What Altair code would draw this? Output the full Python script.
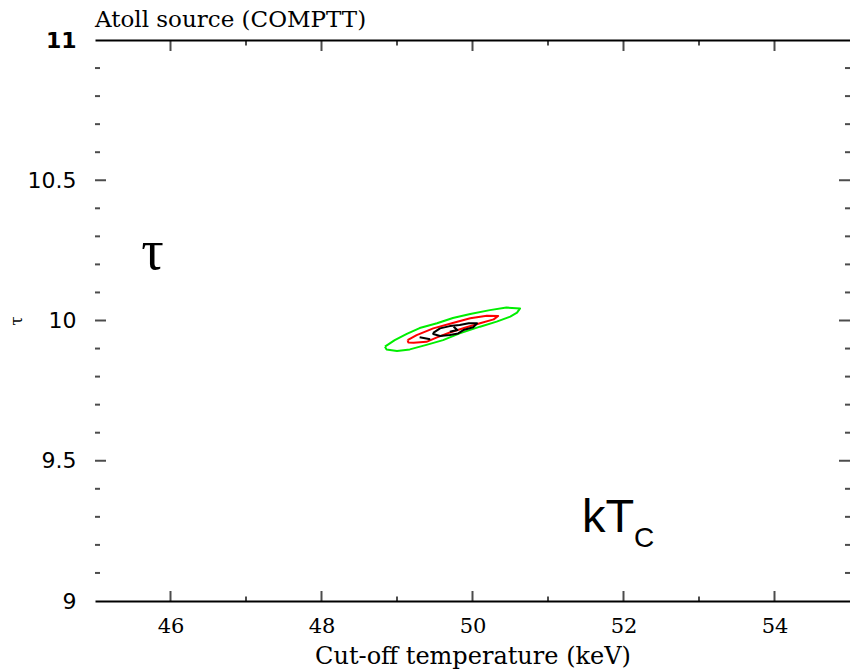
import altair as alt
import pandas as pd

# ---- contour data (Cut-off temperature keV, tau) ----
green_x = [48.84, 48.97, 49.13, 49.30, 49.53, 49.74, 49.97, 50.23, 50.45, 50.63,
           50.59, 50.50, 50.32, 50.10, 49.83, 49.61, 49.39, 49.17, 49.00, 48.86, 48.84]
green_y = [9.907, 9.930, 9.952, 9.973, 9.990, 10.009, 10.023, 10.037, 10.046, 10.043,
           10.028, 10.014, 9.996, 9.978, 9.954, 9.930, 9.913, 9.897, 9.891, 9.897, 9.907]

red_x = [49.14, 49.26, 49.48, 49.75, 49.97, 50.19, 50.34, 50.28, 50.10, 49.92,
         49.70, 49.53, 49.39, 49.22, 49.15, 49.14]
red_y = [9.930, 9.948, 9.972, 9.992, 10.008, 10.017, 10.016, 10.004, 9.990, 9.976,
         9.957, 9.940, 9.924, 9.921, 9.922, 9.930]

black_x = [49.48, 49.57, 49.70, 49.83, 49.95, 50.06, 50.01, 49.88, 49.81, 49.70,
           49.57, 49.48, 49.48]
black_y = [9.956, 9.972, 9.980, 9.984, 9.990, 9.990, 9.976, 9.966, 9.954, 9.948,
           9.945, 9.952, 9.956]
black2_x = [49.30, 49.44]
black2_y = [9.940, 9.933]
black3_x = [49.75, 49.80, 49.70]
black3_y = [9.978, 9.966, 9.960]

# ---- axis ticks ----
x_major = [46, 48, 50, 52, 54]
x_minor = [47, 49, 51, 53]
y_major = [9.5, 10.0, 10.5]
y_minor = [9.1, 9.2, 9.3, 9.4, 9.6, 9.7, 9.8, 9.9,
           10.1, 10.2, 10.3, 10.4, 10.6, 10.7, 10.8, 10.9]
y_labels = [9, 9.5, 10, 10.5, 11]

# ---- texts ----
title_text = ["Atoll source (COMPTT)"]
title_pos = [45.0, 11.0]
tau_text = ["τ"]
tau_pos = [45.76, 10.245]
kt_text = ["kT"]
kt_pos = [51.45, 9.246]
c_text = ["C"]
c_pos = [52.14, 9.193]

rows = []
def add(piece, level, xs, ys):
    for i, (a, b) in enumerate(zip(xs, ys)):
        rows.append(dict(piece=piece, level=level, x=a, y=b, i=i))

add("g", "outer", green_x, green_y)
add("r", "mid", red_x, red_y)
add("b1", "inner", black_x, black_y)
add("b2", "inner", black2_x, black2_y)
add("b3", "inner", black3_x, black3_y)
cont = pd.DataFrame(rows)

xscale = alt.Scale(domain=[45, 55], nice=False, zero=False)
yscale = alt.Scale(domain=[9, 11], nice=False, zero=False)

contours = alt.Chart(cont).mark_line(strokeWidth=2, strokeJoin="round").encode(
    x=alt.X("x:Q", scale=xscale, axis=alt.Axis(
        orient="bottom", values=x_major, format="d", ticks=False, tickSize=0,
        labelPadding=14, labelFont="DejaVu Serif", labelFontSize=21,
        labelColor="black", domain=True, domainColor="black", domainWidth=2,
        grid=False, title="Cut-off temperature (keV)", titleFont="DejaVu Serif",
        titleFontSize=24, titleFontWeight="normal", titleColor="black",
        titlePadding=8)),
    y=alt.Y("y:Q", scale=yscale, axis=alt.Axis(
        orient="left", values=y_labels, format="~g", ticks=False, tickSize=0,
        domain=False, grid=False, labelPadding=19, labelFontSize=22,
        labelColor="black", labelFont="DejaVu Sans",
        labelFontWeight={"condition": {"test": "datum.value == 11", "value": "bold"},
                         "value": "normal"},
        title="τ", titleFont="DejaVu Serif", titleFontSize=17,
        titleFontWeight="normal", titleColor="black", titlePadding=2)),
    color=alt.Color("level:N", scale=alt.Scale(domain=["outer", "mid", "inner"],
                                               range=["#00ee00", "#ff0000", "#000000"]),
                    legend=None),
    detail="piece:N",
    order="i:Q",
)

bx = pd.DataFrame({"x": x_major, "y": [9] * len(x_major)})
bxm = pd.DataFrame({"x": x_minor, "y": [9] * len(x_minor)})
tx = pd.DataFrame({"x": x_major, "y": [11] * len(x_major)})
txm = pd.DataFrame({"x": x_minor, "y": [11] * len(x_minor)})

def vticks(df, size, top=False):
    xax = None
    if top:
        xax = alt.Axis(orient="top", labels=False, ticks=False, domain=True,
                       domainColor="black", domainWidth=2, grid=False, title=None)
    return alt.Chart(df).mark_tick(orient="vertical", size=size, thickness=2,
                                   clip=True, color="black").encode(
        x=alt.X("x:Q", scale=xscale, axis=xax),
        y=alt.Y("y:Q", scale=yscale, axis=None),
    )

yl = pd.DataFrame({"x": [45] * len(y_major) + [55] * len(y_major), "y": y_major * 2})
ylm = pd.DataFrame({"x": [45] * len(y_minor) + [55] * len(y_minor), "y": y_minor * 2})

def hticks(df, size):
    return alt.Chart(df).mark_tick(orient="horizontal", size=size, thickness=2,
                                   clip=True, color="black").encode(
        x=alt.X("x:Q", scale=xscale, axis=None),
        y=alt.Y("y:Q", scale=yscale, axis=None),
    )

def text_layer(txt, pos, **kw):
    df = pd.DataFrame({"t": txt, "x": [pos[0]], "y": [pos[1]]})
    return alt.Chart(df).mark_text(color="black", **kw).encode(
        x=alt.X("x:Q", scale=xscale, axis=None),
        y=alt.Y("y:Q", scale=yscale, axis=None),
        text="t:N",
    )

title = text_layer(title_text, title_pos, font="DejaVu Serif", fontSize=23,
                   align="left", baseline="alphabetic", dy=-13)
tau = text_layer(tau_text, tau_pos, font="Liberation Serif", fontSize=56,
                 align="center", baseline="middle")
kt = text_layer(kt_text, kt_pos, font="Liberation Sans", fontSize=47,
                align="left", baseline="alphabetic")
cc = text_layer(c_text, c_pos, font="Liberation Sans", fontSize=28,
                align="left", baseline="alphabetic")

chart = alt.layer(
    contours,
    vticks(tx, 22, top=True), vticks(txm, 11),
    vticks(bx, 20), vticks(bxm, 9),
    hticks(yl, 22), hticks(ylm, 10),
    title, tau, kt, cc,
).resolve_axis(x="independent", y="independent").properties(
    width=755, height=561,
    padding={"left": 95, "top": 40, "right": 0, "bottom": 69},
    autosize=alt.AutoSizeParams(type="none"),
    background="white",
).configure_view(stroke=None)

chart.save("out.html", embed_options={"renderer": "svg", "actions": False})
